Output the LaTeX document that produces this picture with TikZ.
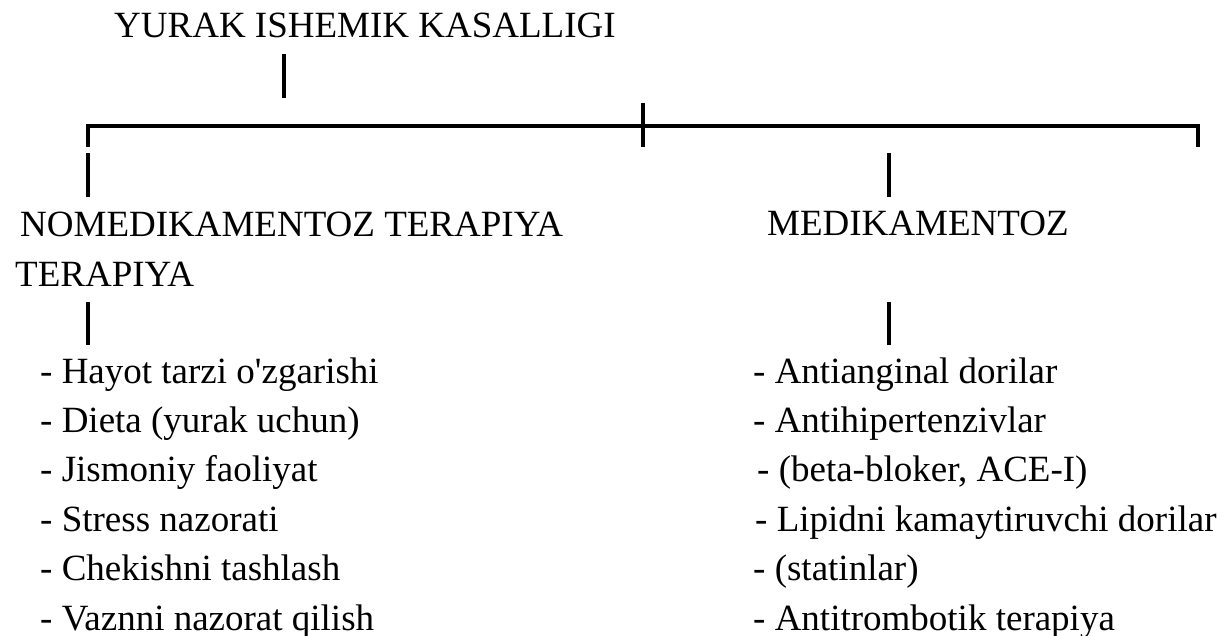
\documentclass[tikz,border=0pt]{standalone}
\usepackage{fontspec}
\setmainfont{Liberation Serif}
\tikzstyle{bar} = [line width=3.1pt]

\begin{document}
\begin{tikzpicture}
        [
            x=1pt, y=-1pt,
            txt/.style={anchor=base west, inner sep=0pt, font=\fontsize{37}{50}\selectfont},
        ]
    \useasboundingbox (0,0) rectangle (1230,636);

    % headings
    \node[txt] (title) at (114,38) {YURAK ISHEMIK KASALLIGI};
    \node[txt, align=left] (nomed) at (15,286) {\hspace*{5pt}NOMEDIKAMENTOZ TERAPIYA\\TERAPIYA};
    \node[txt] (med) at (767,236) {MEDIKAMENTOZ};

    % lists
    \foreach \lbl [count=\i] in {Hayot tarzi o\textquotesingle zgarishi, Dieta (yurak uchun),
            Jismoniy faoliyat, Stress nazorati, Chekishni tashlash, Vaznni nazorat qilish}
        \node[txt] (n\i) at (40,{383+49.4*(\i-1)}) {- \lbl};
    \foreach \dx/\lbl [count=\i] in {0/Antianginal dorilar, 0/Antihipertenzivlar,
            4/{(beta-bloker, ACE-I)}, 2/Lipidni kamaytiruvchi dorilar, 0/(statinlar),
            0/Antitrombotik terapiya}
        \node[txt] (m\i) at ({753+\dx},{383+49.4*(\i-1)}) {- \lbl};

    % connectors
    \coordinate (t0) at (284,54);
    \coordinate (t1) at (284,98);
    \coordinate (hub) at (643,126);
    \coordinate (hubtop) at (643,103);
    \coordinate (hubbot) at (643,147);
    \coordinate (lc) at (88,147);
    \coordinate (rc) at (1198,147);
    \coordinate (l0) at (88,153);
    \coordinate (l1) at (88,197);
    \coordinate (r0) at (889,153);
    \coordinate (r1) at (889,197);
    \coordinate (l2) at (88,302);
    \coordinate (l3) at (88,345);
    \coordinate (r2) at (889,302);
    \coordinate (r3) at (889,345);

    \draw[bar] (t0) -- (t1);
    \draw[bar] (lc) -- (lc |- hub) -- (rc |- hub) -- (rc);
    \draw[bar] (hubtop) -- (hubbot);
    \draw[bar] (l0) -- (l1);
    \draw[bar] (r0) -- (r1);
    \draw[bar] (l2) -- (l3);
    \draw[bar] (r2) -- (r3);
\end{tikzpicture}
\end{document}
